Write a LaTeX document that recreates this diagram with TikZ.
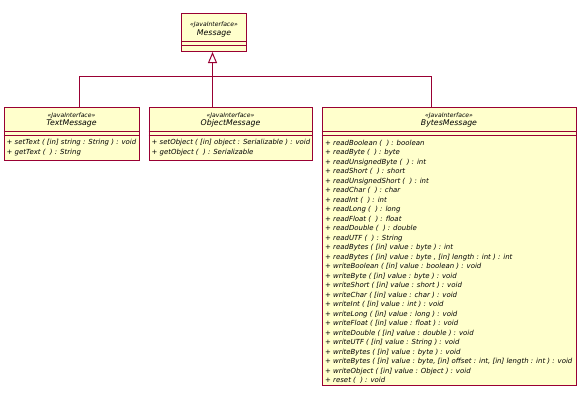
\documentclass[tikz,border=0pt]{standalone}
\usepackage{fontspec}
\setmainfont{DejaVu Sans}
\usetikzlibrary{arrows.meta}
\definecolor{umlborder}{RGB}{153,0,51}
\definecolor{umlfill}{RGB}{255,255,204}

\begin{document}
\begin{tikzpicture}[x=1pt, y=-1pt,
    classbox/.style={draw=umlborder, line width=1pt, fill=umlfill, rectangle, inner sep=0pt},
    stereo/.style={font=\fontsize{6.1}{7}\selectfont\itshape, inner sep=0pt},
    cname/.style={font=\fontsize{7.8}{8}\selectfont\itshape, inner sep=0pt},
    ops/.style={font=\fontsize{6.95}{9.48}\selectfont\itshape, align=left, anchor=north west, inner sep=0pt},
    sep/.style={draw=umlborder, line width=1pt},
    genline/.style={draw=umlborder, line width=1pt}]
  \useasboundingbox (0,0) rectangle (586,405);

  % Message
  \node[classbox, minimum width=65pt, minimum height=38pt] (msg) at (214,32.5) {};
  \node[stereo] (msgst) at ([yshift=-12pt]msg.north) {«JavaInterface»};
  \node[cname] (msgnm) at ([yshift=-20.5pt]msg.north) {Message};
  \draw[sep] ([yshift=-28pt]msg.north west) -- ([yshift=-28pt]msg.north east);
  \draw[sep] ([yshift=-32.5pt]msg.north west) -- ([yshift=-32.5pt]msg.north east);

  % TextMessage
  \node[classbox, minimum width=135pt, minimum height=52.5pt] (textmsg) at (71.5,133.75) {};
  \node[stereo] (textst) at ([yshift=-8.5pt]textmsg.north) {«JavaInterface»};
  \node[cname] (textnm) at ([yshift=-16.5pt]textmsg.north) {TextMessage};
  \draw[sep] ([yshift=-24.5pt]textmsg.north west) -- ([yshift=-24.5pt]textmsg.north east);
  \draw[sep] ([yshift=-28pt]textmsg.north west) -- ([yshift=-28pt]textmsg.north east);
  \node[ops] (textops) at ([xshift=3pt, yshift=-32.5pt]textmsg.north west)
    {+ setText ( [in] string : String ) : void\\
     + getText (\ \ ) : String};

  % ObjectMessage
  \node[classbox, minimum width=163pt, minimum height=53pt] (objmsg) at (230.5,134) {};
  \node[stereo] (objst) at ([yshift=-8.5pt]objmsg.north) {«JavaInterface»};
  \node[cname] (objnm) at ([yshift=-16.5pt]objmsg.north) {ObjectMessage};
  \draw[sep] ([yshift=-24.5pt]objmsg.north west) -- ([yshift=-24.5pt]objmsg.north east);
  \draw[sep] ([yshift=-28pt]objmsg.north west) -- ([yshift=-28pt]objmsg.north east);
  \node[ops] (objops) at ([xshift=3pt, yshift=-32.5pt]objmsg.north west)
    {+ setObject ( [in] object : Serializable ) : void\\
     + getObject (\ \ ) : Serializable};

  % BytesMessage
  \node[classbox, minimum width=254pt, minimum height=277.5pt] (bytesmsg) at (449,246.25) {};
  \node[stereo] (bytesst) at ([yshift=-8.5pt]bytesmsg.north) {«JavaInterface»};
  \node[cname] (bytesnm) at ([yshift=-16.5pt]bytesmsg.north) {BytesMessage};
  \draw[sep] ([yshift=-24.5pt]bytesmsg.north west) -- ([yshift=-24.5pt]bytesmsg.north east);
  \draw[sep] ([yshift=-28pt]bytesmsg.north west) -- ([yshift=-28pt]bytesmsg.north east);
  \node[ops] (bytesops) at ([xshift=3.5pt, yshift=-33pt]bytesmsg.north west)
    {+ readBoolean (\ \ ) : boolean\\
     + readByte (\ \ ) : byte\\
     + readUnsignedByte (\ \ ) : int\\
     + readShort (\ \ ) : short\\
     + readUnsignedShort (\ \ ) : int\\
     + readChar (\ \ ) : char\\
     + readInt (\ \ ) : int\\
     + readLong (\ \ ) : long\\
     + readFloat (\ \ ) : float\\
     + readDouble (\ \ ) : double\\
     + readUTF (\ \ ) : String\\
     + readBytes ( [in] value : byte ) : int\\
     + readBytes ( [in] value : byte , [in] length : int ) : int\\
     + writeBoolean ( [in] value : boolean ) : void\\
     + writeByte ( [in] value : byte ) : void\\
     + writeShort ( [in] value : short ) : void\\
     + writeChar ( [in] value : char ) : void\\
     + writeInt ( [in] value : int ) : void\\
     + writeLong ( [in] value : long ) : void\\
     + writeFloat ( [in] value : float ) : void\\
     + writeDouble ( [in] value : double ) : void\\
     + writeUTF ( [in] value : String ) : void\\
     + writeBytes ( [in] value : byte ) : void\\
     + writeBytes ( [in] value : byte, [in] offset : int, [in] length : int ) : void\\
     + writeObject ( [in] value : Object ) : void\\
     + reset (\ \ ) : void};

  % generalization
  \coordinate (join) at (212.5,76.5);
  \draw[genline] ([xshift=8pt]textmsg.north) |- (join);
  \draw[genline] ([xshift=-17.5pt]bytesmsg.north) |- (join);
  \draw[genline, -{Triangle[open, length=11pt, width=9pt]}] (join |- objmsg.north) -- (join |- msg.south);
\end{tikzpicture}
\end{document}
